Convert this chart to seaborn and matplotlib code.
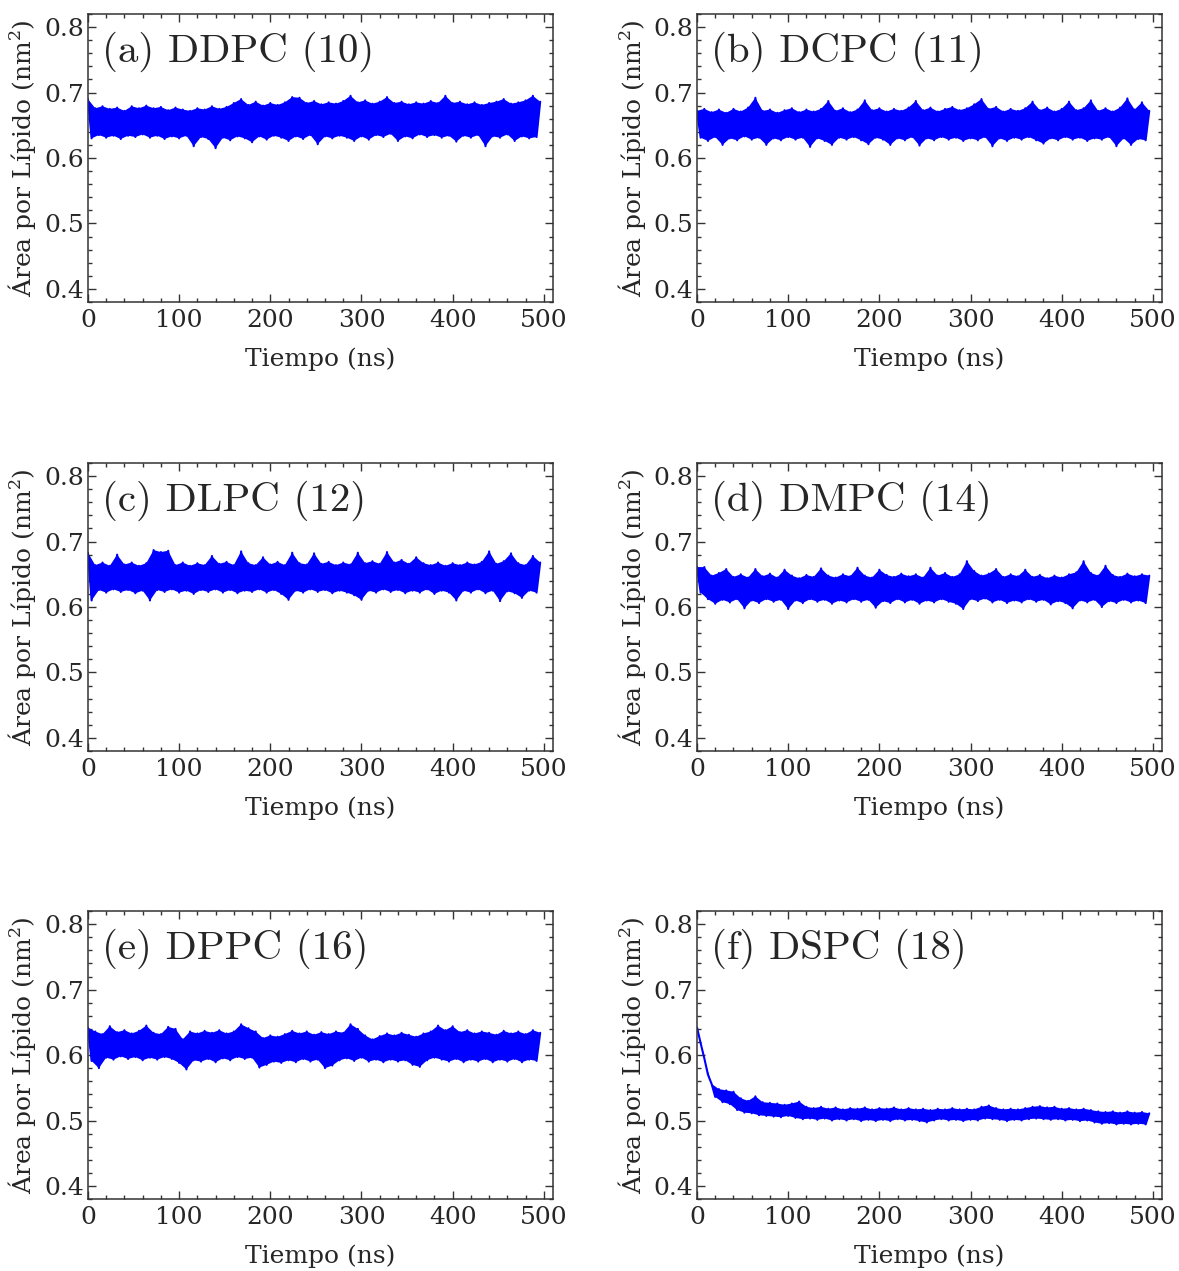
import numpy as np
import pandas as pd
import matplotlib
matplotlib.use("Agg")
import matplotlib.pyplot as plt
import seaborn as sns
from matplotlib.ticker import MultipleLocator

# ---------------- data ----------------
# peaks = upper edge of the fluctuating trace, sampled every 8 ns from 0 ns
# troughs = lower edge, sampled every 8 ns from 4 ns
time_ns = np.arange(0, 500, 4)

titles = ["(a) DDPC (10)", "(b) DCPC (11)", "(c) DLPC (12)",
          "(d) DMPC (14)", "(e) DPPC (16)", "(f) DSPC (18)"]

a_peaks = [0.690, 0.676, 0.679, 0.675, 0.677, 0.672, 0.679, 0.676, 0.680, 0.676, 0.678, 0.673, 0.677,
           0.674, 0.672, 0.676, 0.674, 0.679, 0.675, 0.678, 0.684, 0.690, 0.681, 0.686, 0.680, 0.684,
           0.681, 0.685, 0.693, 0.692, 0.684, 0.687, 0.682, 0.685, 0.683, 0.687, 0.695, 0.685, 0.688,
           0.683, 0.686, 0.693, 0.684, 0.686, 0.682, 0.685, 0.683, 0.687, 0.684, 0.695, 0.684, 0.686,
           0.682, 0.685, 0.681, 0.684, 0.686, 0.690, 0.683, 0.685, 0.688, 0.695, 0.686]
a_troughs = [0.630, 0.635, 0.631, 0.634, 0.629, 0.634, 0.632, 0.636, 0.631, 0.634, 0.629, 0.633, 0.630,
             0.634, 0.618, 0.632, 0.629, 0.615, 0.631, 0.627, 0.633, 0.630, 0.624, 0.633, 0.628, 0.634,
             0.631, 0.626, 0.633, 0.629, 0.635, 0.621, 0.633, 0.630, 0.634, 0.631, 0.626, 0.633, 0.628,
             0.635, 0.632, 0.637, 0.626, 0.633, 0.630, 0.636, 0.632, 0.635, 0.631, 0.634, 0.625, 0.634,
             0.631, 0.635, 0.618, 0.633, 0.631, 0.636, 0.626, 0.633, 0.630, 0.632]

b_peaks = [0.672, 0.675, 0.670, 0.674, 0.669, 0.675, 0.671, 0.677, 0.692, 0.672, 0.674, 0.669, 0.673,
           0.676, 0.670, 0.674, 0.671, 0.675, 0.687, 0.672, 0.676, 0.670, 0.674, 0.688, 0.673, 0.676,
           0.671, 0.675, 0.672, 0.677, 0.687, 0.673, 0.677, 0.671, 0.675, 0.678, 0.673, 0.676, 0.682,
           0.690, 0.675, 0.678, 0.671, 0.675, 0.672, 0.676, 0.686, 0.673, 0.677, 0.671, 0.675, 0.686,
           0.673, 0.676, 0.688, 0.672, 0.676, 0.671, 0.677, 0.691, 0.674, 0.685, 0.672]
b_troughs = [0.631, 0.626, 0.632, 0.620, 0.630, 0.627, 0.633, 0.628, 0.631, 0.620, 0.630, 0.627, 0.632,
             0.628, 0.631, 0.617, 0.630, 0.626, 0.620, 0.631, 0.628, 0.632, 0.627, 0.621, 0.631, 0.628,
             0.620, 0.630, 0.627, 0.632, 0.619, 0.630, 0.627, 0.632, 0.628, 0.631, 0.626, 0.630, 0.627,
             0.632, 0.618, 0.630, 0.626, 0.631, 0.628, 0.632, 0.627, 0.622, 0.630, 0.627, 0.632, 0.628,
             0.631, 0.626, 0.630, 0.628, 0.632, 0.618, 0.630, 0.620, 0.629, 0.627]

c_peaks = [0.683, 0.664, 0.668, 0.663, 0.680, 0.665, 0.668, 0.663, 0.667, 0.687, 0.684, 0.686, 0.664,
           0.668, 0.663, 0.667, 0.664, 0.678, 0.666, 0.669, 0.664, 0.685, 0.667, 0.664, 0.676, 0.665,
           0.669, 0.664, 0.683, 0.667, 0.665, 0.682, 0.666, 0.669, 0.664, 0.668, 0.665, 0.683, 0.667,
           0.670, 0.666, 0.684, 0.668, 0.672, 0.666, 0.676, 0.667, 0.664, 0.668, 0.663, 0.667, 0.664,
           0.668, 0.665, 0.669, 0.685, 0.666, 0.670, 0.682, 0.667, 0.664, 0.678, 0.668]
c_troughs = [0.610, 0.626, 0.622, 0.627, 0.623, 0.626, 0.621, 0.625, 0.610, 0.626, 0.623, 0.627, 0.622,
             0.625, 0.620, 0.626, 0.623, 0.627, 0.622, 0.626, 0.621, 0.625, 0.623, 0.627, 0.622, 0.626,
             0.620, 0.611, 0.625, 0.622, 0.627, 0.623, 0.626, 0.621, 0.625, 0.622, 0.618, 0.611, 0.625,
             0.622, 0.627, 0.623, 0.626, 0.621, 0.625, 0.622, 0.627, 0.620, 0.625, 0.622, 0.610, 0.625,
             0.622, 0.627, 0.621, 0.625, 0.609, 0.624, 0.621, 0.614, 0.625, 0.622]

d_peaks = [0.661, 0.661, 0.648, 0.652, 0.658, 0.646, 0.650, 0.645, 0.658, 0.647, 0.651, 0.645, 0.657,
           0.648, 0.644, 0.649, 0.646, 0.659, 0.648, 0.645, 0.650, 0.647, 0.660, 0.648, 0.645, 0.657,
           0.649, 0.646, 0.651, 0.647, 0.650, 0.645, 0.660, 0.648, 0.652, 0.646, 0.650, 0.670, 0.655,
           0.648, 0.651, 0.658, 0.646, 0.650, 0.647, 0.657, 0.646, 0.649, 0.644, 0.648, 0.645, 0.650,
           0.653, 0.670, 0.652, 0.648, 0.663, 0.649, 0.646, 0.651, 0.647, 0.650, 0.648]
d_troughs = [0.622, 0.612, 0.605, 0.611, 0.607, 0.612, 0.598, 0.610, 0.606, 0.612, 0.608, 0.611, 0.597,
             0.610, 0.606, 0.612, 0.608, 0.611, 0.605, 0.610, 0.607, 0.612, 0.608, 0.611, 0.599, 0.609,
             0.606, 0.612, 0.607, 0.611, 0.605, 0.610, 0.607, 0.612, 0.608, 0.605, 0.597, 0.612, 0.609,
             0.613, 0.607, 0.611, 0.606, 0.610, 0.607, 0.612, 0.608, 0.611, 0.604, 0.609, 0.606, 0.598,
             0.610, 0.607, 0.611, 0.600, 0.609, 0.606, 0.611, 0.607, 0.610, 0.606]

e_peaks = [0.642, 0.636, 0.632, 0.644, 0.635, 0.638, 0.633, 0.637, 0.645, 0.634, 0.632, 0.643, 0.640,
           0.624, 0.636, 0.633, 0.637, 0.634, 0.638, 0.633, 0.636, 0.647, 0.641, 0.636, 0.626, 0.630,
           0.628, 0.632, 0.637, 0.633, 0.636, 0.631, 0.635, 0.632, 0.636, 0.634, 0.647, 0.640, 0.630,
           0.624, 0.629, 0.633, 0.630, 0.634, 0.631, 0.628, 0.633, 0.636, 0.645, 0.638, 0.644, 0.635,
           0.638, 0.633, 0.636, 0.634, 0.631, 0.637, 0.633, 0.636, 0.632, 0.638, 0.634]
e_troughs = [0.591, 0.580, 0.596, 0.593, 0.598, 0.594, 0.597, 0.592, 0.596, 0.593, 0.597, 0.594, 0.588,
             0.578, 0.592, 0.590, 0.594, 0.589, 0.595, 0.592, 0.597, 0.594, 0.596, 0.581, 0.585, 0.590,
             0.588, 0.592, 0.589, 0.594, 0.590, 0.593, 0.580, 0.584, 0.592, 0.595, 0.591, 0.596, 0.590,
             0.593, 0.589, 0.593, 0.590, 0.592, 0.585, 0.582, 0.592, 0.596, 0.593, 0.590, 0.594, 0.589,
             0.593, 0.590, 0.594, 0.589, 0.593, 0.590, 0.594, 0.589, 0.593, 0.591]

f_peaks = [0.642, 0.595, 0.556, 0.548, 0.546, 0.544, 0.534, 0.530, 0.537, 0.528, 0.527, 0.526, 0.524,
           0.526, 0.529, 0.521, 0.519, 0.521, 0.518, 0.520, 0.517, 0.519, 0.518, 0.520, 0.517, 0.519,
           0.518, 0.520, 0.517, 0.519, 0.517, 0.518, 0.516, 0.518, 0.517, 0.519, 0.517, 0.518, 0.517,
           0.521, 0.523, 0.519, 0.517, 0.518, 0.517, 0.519, 0.521, 0.522, 0.520, 0.521, 0.518, 0.519,
           0.517, 0.518, 0.516, 0.514, 0.513, 0.514, 0.512, 0.514, 0.512, 0.513, 0.511]
f_troughs = [0.618, 0.570, 0.536, 0.528, 0.525, 0.516, 0.512, 0.511, 0.508, 0.507, 0.506, 0.505, 0.507,
             0.504, 0.502, 0.503, 0.501, 0.503, 0.500, 0.502, 0.500, 0.502, 0.499, 0.501, 0.499, 0.501,
             0.499, 0.502, 0.500, 0.501, 0.499, 0.497, 0.500, 0.502, 0.500, 0.501, 0.499, 0.501, 0.500,
             0.503, 0.502, 0.501, 0.499, 0.501, 0.500, 0.502, 0.503, 0.502, 0.501, 0.502, 0.500, 0.501,
             0.499, 0.500, 0.497, 0.495, 0.496, 0.494, 0.495, 0.494, 0.495, 0.494]

peaks = [a_peaks, b_peaks, c_peaks, d_peaks, e_peaks, f_peaks]
troughs = [a_troughs, b_troughs, c_troughs, d_troughs, e_troughs, f_troughs]

x_ticks = [0, 100, 200, 300, 400, 500]
y_ticks = [0.4, 0.5, 0.6, 0.7, 0.8]

# ---------------- style ----------------
sns.set_theme(style="white")
plt.rcParams["font.family"] = ["DejaVu Serif"]
plt.rcParams["mathtext.fontset"] = "dejavuserif"
plt.rcParams["axes.unicode_minus"] = False

fig = plt.figure(figsize=(11.79, 12.71), dpi=100)

lefts = [0.0746, 0.5912]
bottoms = [0.7624, 0.4091, 0.0566]
w, h = 0.3944, 0.2266

blue = "#0000ff"
spine_col = "#333333"
for i in range(6):
    r, c = divmod(i, 2)
    ax = fig.add_axes([lefts[c], bottoms[r], w, h])
    series = np.empty(len(time_ns))
    series[0::2] = peaks[i]
    series[1::2] = troughs[i]
    df = pd.DataFrame({"t": time_ns, "area": series})
    # filled band between the upper and lower edges of the trace
    t_up = time_ns[0::2]
    t_lo = time_ns[1::2]
    ax.fill(np.r_[t_up, t_lo[::-1]], np.r_[peaks[i], troughs[i][::-1]],
            color=blue, lw=0)
    sns.lineplot(data=df, x="t", y="area", ax=ax, color=blue,
                 linewidth=1.5, sort=False, estimator=None)
    ax.set_xlim(0, 510)
    ax.set_ylim(0.38, 0.82)
    ax.set_xticks(x_ticks)
    ax.set_yticks(y_ticks)
    ax.set_xticklabels([str(v) for v in x_ticks])
    ax.set_yticklabels([f"{v:.1f}" for v in y_ticks])
    ax.xaxis.set_minor_locator(MultipleLocator(20))
    ax.yaxis.set_minor_locator(MultipleLocator(0.02))
    ax.tick_params(which="both", direction="in", top=True, right=True,
                   bottom=True, left=True, color=spine_col, width=1.0)
    ax.tick_params(which="major", length=6, labelsize=18)
    ax.tick_params(axis="x", which="major", pad=5)
    ax.tick_params(axis="y", which="major", pad=3)
    ax.tick_params(which="minor", length=3)
    for s in ax.spines.values():
        s.set_color(spine_col)
        s.set_linewidth(1.1)
    ax.set_xlabel("Tiempo (ns)", fontsize=18, labelpad=11)
    ax.set_ylabel("Área por Lípido (nm$^2$)", fontsize=18, labelpad=4)
    ax.text(0.03, 0.868, titles[i], transform=ax.transAxes, fontsize=29.5,
            ha="left", va="center", family="cmr10")
    ax.grid(False)

fig.savefig("out.png", dpi=100)
